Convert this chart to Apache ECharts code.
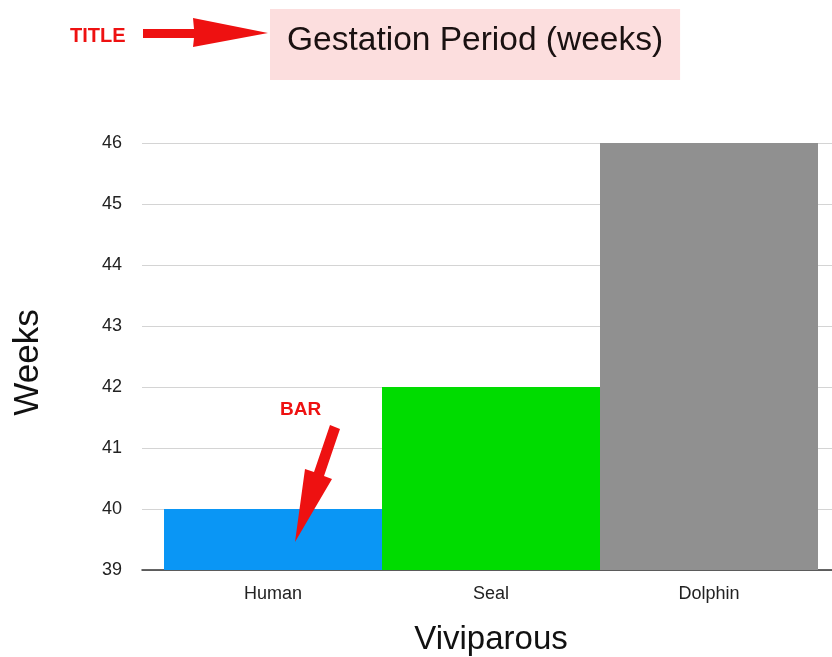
<!DOCTYPE html>
<html>
<head>
<meta charset="utf-8">
<script src="https://cdn.jsdelivr.net/npm/echarts@6/dist/echarts.min.js"></script>
<style>
html,body{margin:0;padding:0;background:#fff;}
#c{width:832px;height:657px;}
</style>
</head>
<body>
<div id="c"></div>
<script>
const categories = ['Human', 'Seal', 'Dolphin'];
const weeks = [40, 42, 46];
const barColors = ['#0a96f5', '#00dc00', '#909090'];
const yMin = 39, yMax = 46, yStep = 1;

const chart = echarts.init(document.getElementById('c'), null, {renderer: 'canvas'});
const font = '"Liberation Sans", Arial, Helvetica, sans-serif';
const red = '#ee1111';

chart.setOption({
  animation: false,
  backgroundColor: '#ffffff',
  title: {
    text: 'Gestation Period (weeks)',
    left: 270, top: 9,
    backgroundColor: '#fcdede',
    padding: [15, 17, 22, 17],
    textStyle: {fontFamily: font, fontSize: 33.5, fontWeight: 'normal', color: '#1a1111'}
  },
  grid: [
    {left: 142, right: 0, top: 143, bottom: 87, containLabel: false, outerBoundsMode: 'none'},
    {left: 164, right: 14, top: 143, bottom: 87, containLabel: false, outerBoundsMode: 'none'}
  ],
  xAxis: [
    {gridIndex: 0, type: 'category', data: [''], axisTick: {show: false}, axisLabel: {show: false},
     axisLine: {lineStyle: {color: '#333', width: 1.5}}},
    {gridIndex: 1, type: 'category', data: categories,
     axisLine: {show: false}, axisTick: {show: false},
     axisLabel: {margin: 15, fontFamily: font, fontSize: 18, color: '#222'},
     name: 'Viviparous', nameLocation: 'middle', nameGap: 53,
     nameTextStyle: {fontFamily: font, fontSize: 33, color: '#111'}}
  ],
  yAxis: [
    {gridIndex: 0, type: 'value', min: yMin, max: yMax, interval: yStep,
     axisLine: {show: false}, axisTick: {show: false},
     axisLabel: {margin: 20, fontFamily: font, fontSize: 18, color: '#222'},
     splitLine: {lineStyle: {color: '#d4d4d4', width: 1}},
     name: 'Weeks', nameLocation: 'middle', nameGap: 96, nameRotate: 90,
     nameTextStyle: {fontFamily: font, fontSize: 35, color: '#111', padding: [0, 12, 0, 0]}},
    {gridIndex: 1, type: 'value', min: yMin, max: yMax, interval: yStep, show: false,
     splitLine: {show: false}}
  ],
  series: [{
    type: 'bar', xAxisIndex: 1, yAxisIndex: 1,
    barCategoryGap: '0%',
    data: weeks.map((v, i) => ({value: v, itemStyle: {color: barColors[i]}}))
  }],
  graphic: [
    {type: 'text', left: 70, top: 26, z: 100,
     style: {text: 'TITLE', fill: red, font: 'bold 20px ' + font}},
    {type: 'polygon', z: 100,
     shape: {points: [[143, 29], [194, 29], [193, 18], [268, 33], [193, 47], [194, 38], [143, 38]]},
     style: {fill: red}},
    {type: 'text', left: 280, top: 400, z: 100,
     style: {text: 'BAR', fill: red, font: 'bold 19px ' + font}},
    {type: 'polygon', z: 100,
     shape: {points: [[330, 425], [340, 429], [324, 476], [332, 479], [295, 542], [305, 469], [314, 472]]},
     style: {fill: red}}
  ]
});
</script>
</body>
</html>
